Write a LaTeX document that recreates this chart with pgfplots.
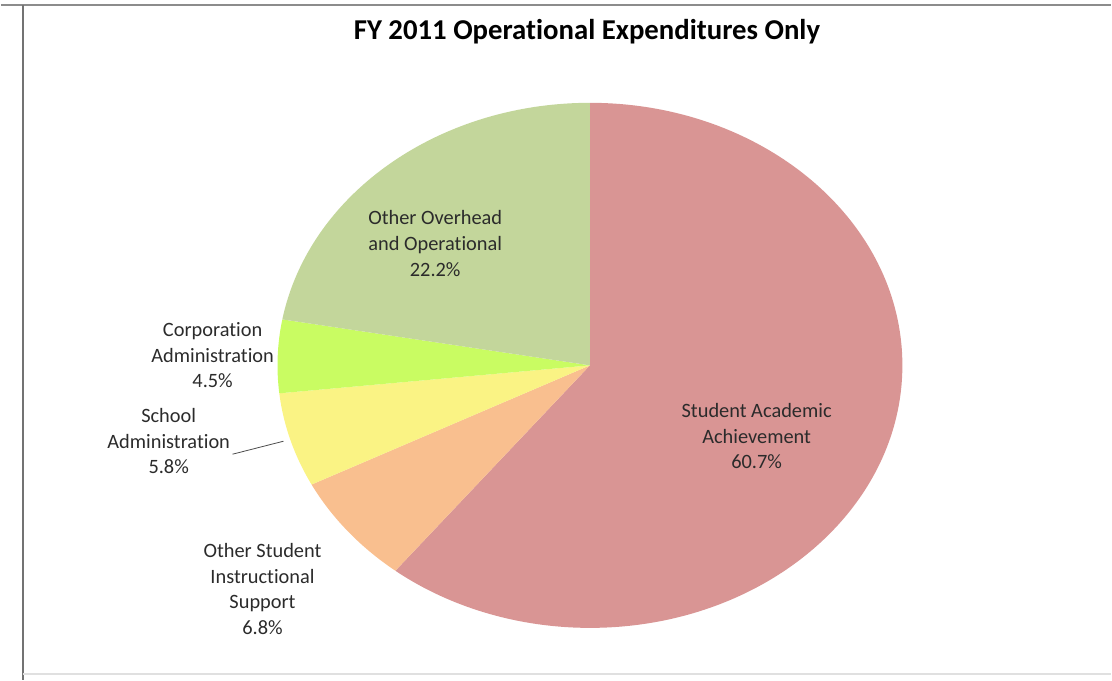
\documentclass[border=0pt]{standalone}
\usepackage{pgfplots}
\pgfplotsset{compat=1.18}
\usepackage{fontspec}
\setmainfont{Carlito}[Ligatures=NoCommon]
\definecolor{cStudent}{HTML}{D99594}
\definecolor{cOther}{HTML}{F9BF8F}
\definecolor{cSchool}{HTML}{FAF384}
\definecolor{cCorp}{HTML}{C9FC62}
\definecolor{cOver}{HTML}{C3D69B}
\definecolor{txt}{HTML}{2B2B2B}
% shares (percent)
\def\vA{60.7}% Student Academic Achievement
\def\vB{6.8}%  Other Student Instructional Support
\def\vC{5.8}%  School Administration
\def\vD{4.5}%  Corporation Administration
\def\vE{22.2}% Other Overhead and Operational
\begin{document}
\begin{tikzpicture}
\pgfmathsetmacro\aA{90}
\pgfmathsetmacro\aB{\aA-3.6*\vA}
\pgfmathsetmacro\aC{\aB-3.6*\vB}
\pgfmathsetmacro\aD{\aC-3.6*\vC}
\pgfmathsetmacro\aE{\aD-3.6*\vD}
\pgfmathsetmacro\aF{\aE-3.6*\vE}
\begin{axis}[scale only axis, width=556pt, height=340.5pt,
  xmin=0, xmax=1112, ymin=0, ymax=681, axis lines=none, clip=false]
\path (rel axis cs:0,0) rectangle (rel axis cs:1,1);
% frame
\draw[color=black!45, line width=1pt] (axis cs:0,676) -- (axis cs:1112,676);
\draw[color=black!55, line width=0.9pt] (axis cs:22,676) -- (axis cs:22,0);
\draw[color=black!12, line width=0.8pt] (axis cs:22,6) -- (axis cs:1112,6);
% slices
\fill[cStudent] (axis cs:590,315) -- ([shift={(\aA:156.5pt and 131.5pt)}]axis cs:590,315) arc[start angle=\aA, end angle=\aB, x radius=156.5pt, y radius=131.5pt] -- cycle;
\fill[cOther] (axis cs:590,315) -- ([shift={(\aB:156.5pt and 131.5pt)}]axis cs:590,315) arc[start angle=\aB, end angle=\aC, x radius=156.5pt, y radius=131.5pt] -- cycle;
\fill[cSchool] (axis cs:590,315) -- ([shift={(\aC:156.5pt and 131.5pt)}]axis cs:590,315) arc[start angle=\aC, end angle=\aD, x radius=156.5pt, y radius=131.5pt] -- cycle;
\fill[cCorp] (axis cs:590,315) -- ([shift={(\aD:156.5pt and 131.5pt)}]axis cs:590,315) arc[start angle=\aD, end angle=\aE, x radius=156.5pt, y radius=131.5pt] -- cycle;
\fill[cOver] (axis cs:590,315) -- ([shift={(\aE:156.5pt and 131.5pt)}]axis cs:590,315) arc[start angle=\aE, end angle=\aF, x radius=156.5pt, y radius=131.5pt] -- cycle;
% leader line
\draw[color=black!70, line width=0.4pt] (axis cs:232,226) -- (axis cs:283,239);
% labels
\node[font=\bfseries\fontsize{14.4}{16}\selectfont, text=black] at (axis cs:587,649) {FY 2011 Operational Expenditures Only};
\tikzset{lab/.style={align=center, text=txt, font=\fontsize{10.2}{12.8}\selectfont, inner sep=0pt}}
\node[lab] at (axis cs:435,437) {Other Overhead\\and Operational\\22.2\%};
\node[lab] at (axis cs:212,325) {Corporation\\Administration\\4.5\%};
\node[lab] at (axis cs:168,239) {School\\Administration\\5.8\%};
\node[lab] at (axis cs:262,91) {Other Student\\Instructional\\Support\\6.8\%};
\node[lab] at (axis cs:757,244) {Student Academic\\Achievement\\60.7\%};
\end{axis}
\end{tikzpicture}
\end{document}
